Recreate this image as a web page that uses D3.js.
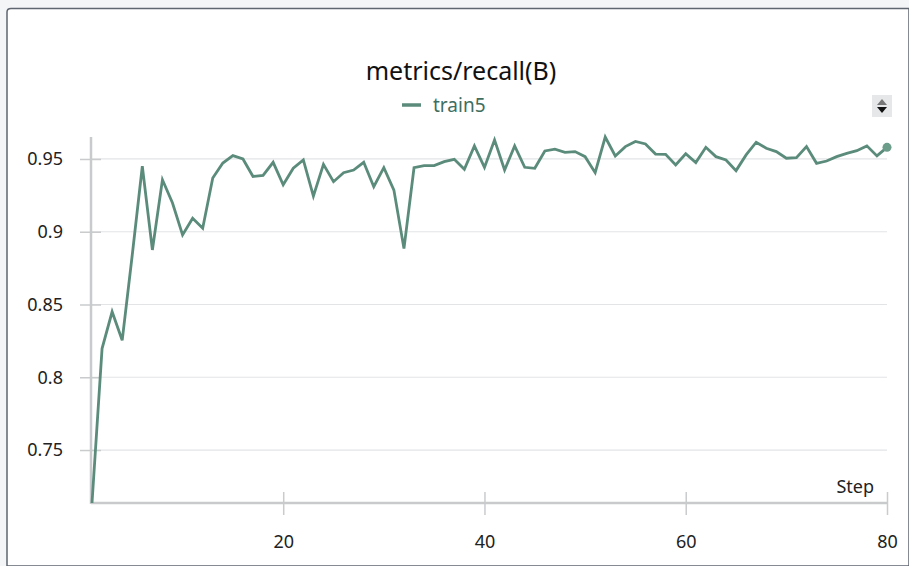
<!DOCTYPE html>
<html>
<head>
<meta charset="utf-8">
<script src="https://cdn.jsdelivr.net/npm/d3@7"></script>
<style>
  html, body { margin: 0; padding: 0; background: #f3f5f7; }
  svg { display: block; }
</style>
</head>
<body>
<svg id="chart" width="909" height="566"></svg>
<script>
// ---- data ----
const title = "metrics/recall(B)";
const seriesName = "train5";
const xTicks = [20, 40, 60, 80];
const yTicks = [0.75, 0.8, 0.85, 0.9, 0.95];
const yTickLabels = ["0.75", "0.8", "0.85", "0.9", "0.95"];
const steps = d3.range(1, 81);
const recall = [
  0.7136, 0.8197, 0.8450, 0.8254, 0.8840, 0.9450, 0.8875, 0.9357, 0.9197, 0.8978,
  0.9093, 0.9024, 0.9369, 0.9472, 0.9523, 0.9500, 0.9380, 0.9387, 0.9477, 0.9323,
  0.9436, 0.9493, 0.9245, 0.9463, 0.9344, 0.9406, 0.9424, 0.9477, 0.9309, 0.9440,
  0.9286, 0.8884, 0.9440, 0.9454, 0.9454, 0.9482, 0.9498, 0.9429, 0.9590, 0.9442,
  0.9631, 0.9424, 0.9590, 0.9443, 0.9436, 0.9555, 0.9567, 0.9546, 0.9551, 0.9516,
  0.9406, 0.9651, 0.9521, 0.9585, 0.9620, 0.9603, 0.9534, 0.9532, 0.9459, 0.9536,
  0.9475, 0.9580, 0.9516, 0.9493, 0.9420, 0.9528, 0.9615, 0.9574, 0.9551, 0.9505,
  0.9509, 0.9585, 0.9470, 0.9486, 0.9516, 0.9539, 0.9557, 0.9590, 0.9521, 0.9580
];
const data = steps.map((s, i) => ({ step: s, value: recall[i] }));

// ---- layout ----
const svg = d3.select("#chart");
const font = "'Noto Sans', 'Open Sans', sans-serif";
const plotLeft = 92, plotRight = 887, plotTop = 137, plotBottom = 503;

// card
svg.append("rect").attr("x", 0).attr("y", 0).attr("width", 909).attr("height", 566).attr("fill", "#f3f5f7");
svg.append("path")
  .attr("d", "M7,566 L7,12 Q7,8.5 11,8.5 L909,8.5 L909,566 Z")
  .attr("fill", "#ffffff").attr("stroke", "#5f6670").attr("stroke-width", 1.5);

const x = d3.scaleLinear().domain([1, 80]).range([plotLeft, plotRight]);
const y = d3.scaleLinear().domain(d3.extent(recall)).range([plotBottom, plotTop]);

// gridlines
svg.append("g").selectAll("line").data(yTicks).join("line")
  .attr("x1", 91).attr("x2", plotRight)
  .attr("y1", d => y(d)).attr("y2", d => y(d))
  .attr("stroke", "#e2e4e6").attr("stroke-width", 1.2);

// y axis
const yAxis = d3.axisLeft(y).tickValues(yTicks)
  .tickFormat((d, i) => yTickLabels[i]).tickSize(11).tickPadding(17);
const gy = svg.append("g").attr("transform", `translate(91,0)`).call(yAxis);
gy.select(".domain").remove();
gy.selectAll(".tick line").attr("stroke", "#c9cbcd").attr("stroke-width", 1.5).attr("x2", 10).attr("x1", -11);
gy.selectAll(".tick text").attr("font-family", font).attr("font-size", 18).attr("fill", "#222");
svg.append("line").attr("x1", 91).attr("x2", 91).attr("y1", plotTop).attr("y2", plotBottom + 1)
  .attr("stroke", "#c8cacc").attr("stroke-width", 2.5);

// x axis
const xAxis = d3.axisBottom(x).tickValues(xTicks).tickFormat(d3.format("d")).tickSize(12).tickPadding(20);
const gx = svg.append("g").attr("transform", `translate(0,${plotBottom})`).call(xAxis);
gx.select(".domain").remove();
gx.selectAll(".tick line").attr("stroke", "#c9cbcd").attr("stroke-width", 1.5).attr("y1", -11);
gx.selectAll(".tick text").attr("font-family", font).attr("font-size", 18).attr("fill", "#222");
svg.append("line").attr("x1", 91).attr("x2", plotRight).attr("y1", plotBottom).attr("y2", plotBottom)
  .attr("stroke", "#c8cacc").attr("stroke-width", 2.5);
svg.append("text").attr("x", 874).attr("y", 493).attr("text-anchor", "end")
  .attr("font-family", font).attr("font-size", 18).attr("fill", "#222").text("Step");

// line
const line = d3.line().x(d => x(d.step)).y(d => y(d.value));
svg.append("path").datum(data).attr("d", line)
  .attr("fill", "none").attr("stroke", "#5b8c7b").attr("stroke-width", 2.8)
  .attr("stroke-linejoin", "miter");
const last = data[data.length - 1];
svg.append("circle").attr("cx", x(last.step)).attr("cy", y(last.value)).attr("r", 4.5)
  .attr("fill", "#6c9c8a");

// title + legend
svg.append("text").attr("x", 461).attr("y", 80).attr("text-anchor", "middle")
  .attr("font-family", font).attr("font-size", 25).attr("fill", "#111").text(title);
svg.append("line").attr("x1", 402).attr("x2", 421).attr("y1", 105).attr("y2", 105)
  .attr("stroke", "#5b8c7b").attr("stroke-width", 3.5);
svg.append("text").attr("x", 433).attr("y", 112).attr("font-family", font).attr("font-size", 19)
  .attr("fill", "#3f6e60").text(seriesName);

// scroll icon
const ic = svg.append("g").attr("transform", "translate(882,106)");
ic.append("rect").attr("x", -10).attr("y", -11).attr("width", 20).attr("height", 22).attr("fill", "#e6e7e8");
ic.append("path").attr("d", "M-5,-1 L5,-1 L0,-7 Z").attr("fill", "#777");
ic.append("path").attr("d", "M-5,1 L5,1 L0,7 Z").attr("fill", "#111");
</script>
</body>
</html>
